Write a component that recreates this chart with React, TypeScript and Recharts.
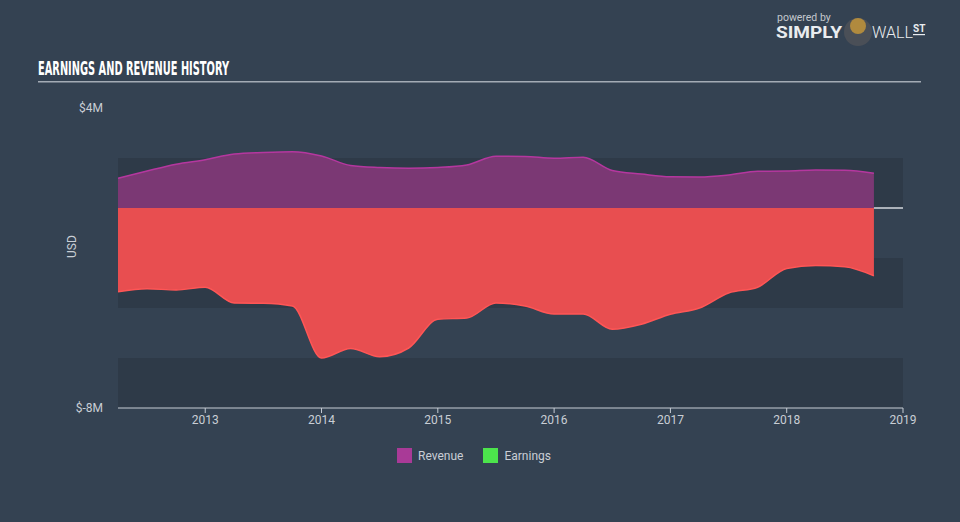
import React from "react";
import { ComposedChart, Area, XAxis, YAxis, CartesianGrid, ReferenceLine } from "recharts";

// Quarter ends
const periods = [
  2012.25, 2012.5, 2012.75, 2013.0, 2013.25, 2013.5, 2013.75, 2014.0, 2014.25,
  2014.5, 2014.75, 2015.0, 2015.25, 2015.5, 2015.75, 2016.0, 2016.25, 2016.5,
  2016.75, 2017.0, 2017.25, 2017.5, 2017.75, 2018.0, 2018.25, 2018.5, 2018.75,
];

// USD millions
const revenue = [
  1.19, 1.48, 1.75, 1.93, 2.16, 2.22, 2.25, 2.08, 1.7,
  1.62, 1.59, 1.62, 1.72, 2.07, 2.06, 1.99, 2.03, 1.5,
  1.36, 1.25, 1.24, 1.32, 1.47, 1.48, 1.52, 1.51, 1.39,
];

const earnings = [
  -3.35, -3.23, -3.28, -3.17, -3.8, -3.81, -3.92, -6.0, -5.62,
  -5.95, -5.6, -4.45, -4.4, -3.8, -3.92, -4.24, -4.24, -4.85,
  -4.65, -4.25, -4.0, -3.4, -3.17, -2.42, -2.3, -2.35, -2.71,
];

const xTicks = [2013, 2014, 2015, 2016, 2017, 2018, 2019];
const yTicks = [4, -8];
const bandLines = [4, 2, 0, -2, -4, -6, -8];

const data = periods.map((p, i) => ({ date: p, revenue: revenue[i], earnings: earnings[i] }));

const BG = "#344252";
const BAND = "#2e3a48";
const TEXT = "#c9ced5";
const FONT = "Roboto, 'Noto Sans', sans-serif";

const App = () => {
  return (
    <div
      style={{
        position: "fixed",
        top: 0,
        left: 0,
        width: 960,
        height: 522,
        background: BG,
        fontFamily: FONT,
        overflow: "hidden",
      }}
    >
      {/* Title */}
      <svg style={{ position: "absolute", left: 0, top: 0 }} width={960} height={90}>
        <text
          x={38}
          y={75}
          fill="#ffffff"
          fontFamily="'DejaVu Sans Condensed', 'Liberation Sans Narrow', sans-serif"
          fontWeight="bold"
          fontSize={19}
          textLength={191}
          lengthAdjust="spacingAndGlyphs"
        >
          EARNINGS AND REVENUE HISTORY
        </text>
        <rect x={38} y={81} width={883} height={1.5} fill="#a3abb5" />
        {/* Logo */}
        <text x={777} y={21} fill="#c3c8ce" fontSize={10.5} fontFamily={FONT}>
          powered by
        </text>
        <text x={776} y={38} fill="#e9ecef" fontSize={16} fontWeight="bold" fontFamily={FONT} textLength={66} lengthAdjust="spacingAndGlyphs">
          SIMPLY
        </text>
        <circle cx={858} cy={32} r={14} fill="#4a4f57" />
        <circle cx={858} cy={26} r={8} fill="#b08a3e" />
        <text x={872} y={38} fill="#e9ecef" fontSize={16} fontWeight={300} fontFamily={FONT} textLength={41} lengthAdjust="spacingAndGlyphs">
          WALL
        </text>
        <text x={913} y={32} fill="#e9ecef" fontSize={10} fontWeight="bold" fontFamily={FONT}>
          ST
        </text>
        <rect x={913} y={34} width={12} height={1.2} fill="#e9ecef" />
      </svg>

      <div style={{ position: "absolute", left: 0, top: 0 }}>
        <ComposedChart
          width={960}
          height={522}
          data={data}
          margin={{ top: 108, right: 57, bottom: 84, left: 58 }}
        >
          <CartesianGrid
            vertical={false}
            stroke="transparent"
            horizontalValues={bandLines}
            horizontalFill={["transparent", BAND]}
          />
          <XAxis
            dataKey="date"
            type="number"
            domain={[2012.25, 2019]}
            ticks={xTicks}
            allowDataOverflow
            height={30}
            stroke="#c6ccd4"
            tickSize={5}
            tickMargin={2}
            tick={{ fill: TEXT, fontSize: 12, fontFamily: FONT }}
          />
          <YAxis
            type="number"
            domain={[-8, 4]}
            ticks={yTicks}
            width={60}
            axisLine={false}
            tickLine={false}
            tickSize={0}
            tickMargin={15}
            tickFormatter={(v: number) => `$${v}M`}
            tick={{ fill: TEXT, fontSize: 12, fontFamily: FONT }}
            label={{
              value: "USD",
              angle: -90,
              position: "insideLeft",
              offset: 14,
              fill: TEXT,
              fontSize: 12,
              fontFamily: FONT,
            }}
          />
          <Area
            type="monotone"
            dataKey="revenue"
            baseValue={0}
            stroke="#b5379f"
            strokeWidth={1.5}
            fill="#7b3874"
            fillOpacity={1}
            isAnimationActive={false}
          />
          <Area
            type="monotone"
            dataKey="earnings"
            baseValue={0}
            stroke="#ff5656"
            strokeWidth={1.5}
            fill="#e84e50"
            fillOpacity={1}
            isAnimationActive={false}
          />
          <ReferenceLine
            segment={[
              { x: 2018.75, y: 0 },
              { x: 2019, y: 0 },
            ]}
            stroke="#d5d9de"
            strokeWidth={1.5}
          />
        </ComposedChart>
      </div>

      {/* Legend */}
      <div
        style={{
          position: "absolute",
          top: 448,
          left: -6,
          width: 960,
          display: "flex",
          justifyContent: "center",
          alignItems: "center",
          fontSize: 12,
          color: TEXT,
          gap: 6,
        }}
      >
        <span style={{ width: 15, height: 15, background: "#a93a97", display: "inline-block" }} />
        <span style={{ marginRight: 14 }}>Revenue</span>
        <span style={{ width: 15, height: 15, background: "#4ce44c", display: "inline-block" }} />
        <span>Earnings</span>
      </div>
    </div>
  );
};

export default App;
